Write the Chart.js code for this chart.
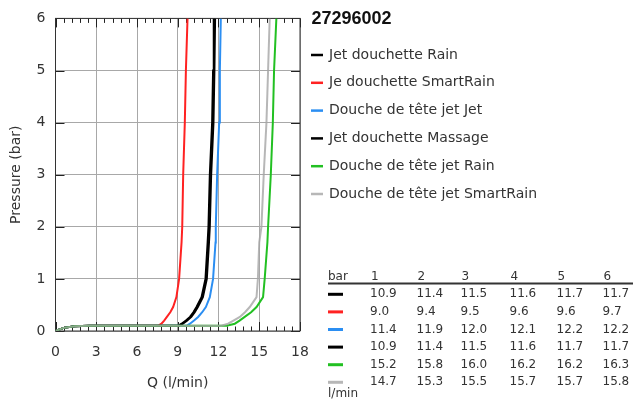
<!DOCTYPE html>
<html>
<head>
<meta charset="utf-8">
<script src="https://cdn.jsdelivr.net/npm/chart.js@4.4.1/dist/chart.umd.min.js"></script>
<style>
  html, body { margin: 0; padding: 0; background: #fff; }
  #wrap { position: relative; width: 633px; height: 401px; }
</style>
</head>
<body>
<div id="wrap"><canvas id="curveChart"></canvas></div>
<script>
// pressure points (bar), shared by all curves
const pressure = [0, 0.06, 0.09, 0.1, 0.1, 0.14, 0.2, 0.27, 0.36, 0.46, 0.65, 1, 1.7, 2, 3, 4, 5, 6];

// flow (l/min) at the pressures above
const qJetRain      = [0, 0.6, 1.4, 2.5, 9.03, 9.28, 9.6, 9.9, 10.15, 10.38, 10.75, 11.04, 11.2, 11.26, 11.36, 11.53, 11.6, 11.65];
const qJetSmartRain = [0, 0.6, 1.4, 2.5, 7.55, 7.8, 8.0, 8.2, 8.45, 8.66, 8.9, 9.1, 9.28, 9.33, 9.4, 9.52, 9.6, 9.72];
const qHeadJet      = [0, 0.6, 1.4, 2.5, 9.65, 9.9, 10.2, 10.5, 10.8, 11.07, 11.36, 11.6, 11.78, 11.8, 11.9, 12.05, 12.1, 12.17];
const qJetMassage   = [0, 0.6, 1.4, 2.5, 9.1, 9.38, 9.7, 10.0, 10.25, 10.48, 10.85, 11.14, 11.3, 11.36, 11.46, 11.63, 11.7, 11.75];
const qHeadRain     = [0, 0.6, 1.4, 2.5, 12.6, 13.2, 13.55, 13.93, 14.4, 14.8, 15.28, 15.4, 15.6, 15.65, 15.85, 16.0, 16.09, 16.26];
const qHeadSmart    = [0, 0.6, 1.4, 2.5, 12.2, 12.7, 13.1, 13.57, 13.95, 14.3, 14.8, 14.9, 15.0, 15.16, 15.33, 15.53, 15.65, 15.77];

const labels = [
  'Jet douchette Rain',
  'Je douchette SmartRain',
  'Douche de tête jet Jet',
  'Jet douchette Massage',
  'Douche de tête jet Rain',
  'Douche de tête jet SmartRain'
];
const colors = ['#000000', '#ff2222', '#2b8ef2', '#000000', '#22c022', 'rgba(165,165,165,0.8)'];

// table: flow at each pressure step
const tableBar = [1, 2, 3, 4, 5, 6];
const tJetRain      = [10.9, 11.4, 11.5, 11.6, 11.7, 11.7];
const tJetSmartRain = [9.0, 9.4, 9.5, 9.6, 9.6, 9.7];
const tHeadJet      = [11.4, 11.9, 12.0, 12.1, 12.2, 12.2];
const tJetMassage   = [10.9, 11.4, 11.5, 11.6, 11.7, 11.7];
const tHeadRain     = [15.2, 15.8, 16.0, 16.2, 16.2, 16.3];
const tHeadSmart    = [14.7, 15.3, 15.5, 15.7, 15.7, 15.8];

const flows = [qJetRain, qJetSmartRain, qHeadJet, qJetMassage, qHeadRain, qHeadSmart];
const tableRows = [tJetRain, tJetSmartRain, tHeadJet, tJetMassage, tHeadRain, tHeadSmart];

const FONT = '"DejaVu Sans", sans-serif';
const TEXT = '#333333';

function toPoints(q) {
  return q.map((v, i) => ({ x: v, y: pressure[i] }));
}

// inward tick marks + frame, gnuplot style
const frameTicks = {
  id: 'frameTicks',
  beforeDatasetsDraw(chart) {
    const { ctx, chartArea: a, scales: { x, y } } = chart;
    ctx.save();
    ctx.strokeStyle = '#222';
    ctx.lineWidth = 1;
    ctx.beginPath();
    for (let v = 0; v <= 18.001; v += 0.6) {
      const px = Math.round(x.getPixelForValue(v)) + 0.5;
      const major = Math.abs(v / 3 - Math.round(v / 3)) < 0.01;
      const len = major ? 9 : 4.5;
      ctx.moveTo(px, a.bottom); ctx.lineTo(px, a.bottom - len);
      ctx.moveTo(px, a.top); ctx.lineTo(px, a.top + len);
    }
    for (let v = 0; v <= 6; v++) {
      const py = Math.round(y.getPixelForValue(v)) + 0.5;
      ctx.moveTo(a.left, py); ctx.lineTo(a.left + 9, py);
      ctx.moveTo(a.right, py); ctx.lineTo(a.right - 9, py);
    }
    ctx.stroke();
    ctx.strokeStyle = '#333';
    ctx.strokeRect(a.left, a.top, a.right - a.left, a.bottom - a.top);
    ctx.restore();
  }
};

// legend and flow table on the right side
const sidePanel = {
  id: 'sidePanel',
  afterDraw(chart) {
    const ctx = chart.ctx;
    const ds = chart.data.datasets;
    ctx.save();
    ctx.fillStyle = '#111';
    ctx.font = 'bold 18px "Liberation Sans", Arial, sans-serif';
    ctx.textBaseline = 'alphabetic';
    ctx.textAlign = 'left';
    ctx.fillText('27296002', 311.5, 24.3);

    ctx.font = '14px ' + FONT;
    ctx.textBaseline = 'middle';
    ds.forEach((d, i) => {
      const cy = 55 + i * 27.8;
      ctx.strokeStyle = d.borderColor;
      ctx.lineWidth = 2.5;
      ctx.beginPath();
      ctx.moveTo(311, cy); ctx.lineTo(323, cy);
      ctx.stroke();
      ctx.fillStyle = TEXT;
      ctx.fillText(d.label, 329, cy);
    });

    // table
    const colX = [370, 416.5, 460.5, 509.5, 556.5, 602.5];
    ctx.font = '12px ' + FONT;
    ctx.fillStyle = TEXT;
    ctx.fillText('bar', 328, 277);
    tableBar.forEach((b, j) => ctx.fillText(String(b), colX[j] + 1, 277));
    ctx.strokeStyle = '#333';
    ctx.lineWidth = 2;
    ctx.beginPath();
    ctx.moveTo(328, 283.5); ctx.lineTo(633, 283.5);
    ctx.stroke();
    tableRows.forEach((row, i) => {
      const cy = 294.3 + i * 17.6;
      ctx.strokeStyle = ds[i].borderColor;
      ctx.lineWidth = 3;
      ctx.beginPath();
      ctx.moveTo(328, cy); ctx.lineTo(343, cy);
      ctx.stroke();
      ctx.fillStyle = TEXT;
      row.forEach((v, j) => ctx.fillText(v.toFixed(1), colX[j], cy));
    });
    ctx.fillText('l/min', 328, 393.5);
    ctx.restore();
  }
};

new Chart(document.getElementById('curveChart'), {
  type: 'scatter',
  data: {
    datasets: flows.map((q, i) => ({
      label: labels[i],
      data: toPoints(q),
      borderColor: colors[i],
      backgroundColor: colors[i],
      showLine: true,
      pointRadius: 0,
      borderWidth: 2,
      tension: 0,
      order: flows.length - i   // later series drawn on top, like gnuplot
    }))
  },
  options: {
    responsive: true,
    maintainAspectRatio: false,
    animation: false,
    layout: { padding: { left: 0, top: 12.5, right: 333, bottom: 0 } },
    scales: {
      x: {
        type: 'linear',
        min: 0,
        max: 18,
        afterFit(scale) { scale.height = 70; },
        ticks: { stepSize: 3, padding: 13, color: TEXT, font: { family: FONT, size: 14 } },
        grid: { color: '#a8a8a8', lineWidth: 1, drawTicks: false },
        border: { display: false },
        title: { display: true, text: 'Q (l/min)', color: TEXT, padding: { top: 0, bottom: 9 }, font: { family: FONT, size: 14 } }
      },
      y: {
        min: 0,
        max: 6,
        afterFit(scale) { scale.width = 55.5; },
        ticks: { stepSize: 1, padding: 10, color: TEXT, font: { family: FONT, size: 14 } },
        grid: { color: '#a8a8a8', lineWidth: 1, drawTicks: false },
        border: { display: false },
        title: { display: true, text: 'Pressure (bar)', color: TEXT, padding: { top: 8, bottom: 0 }, font: { family: FONT, size: 14 } }
      }
    },
    plugins: {
      legend: { display: false },
      tooltip: { enabled: false }
    }
  },
  plugins: [frameTicks, sidePanel]
});
</script>
</body>
</html>
